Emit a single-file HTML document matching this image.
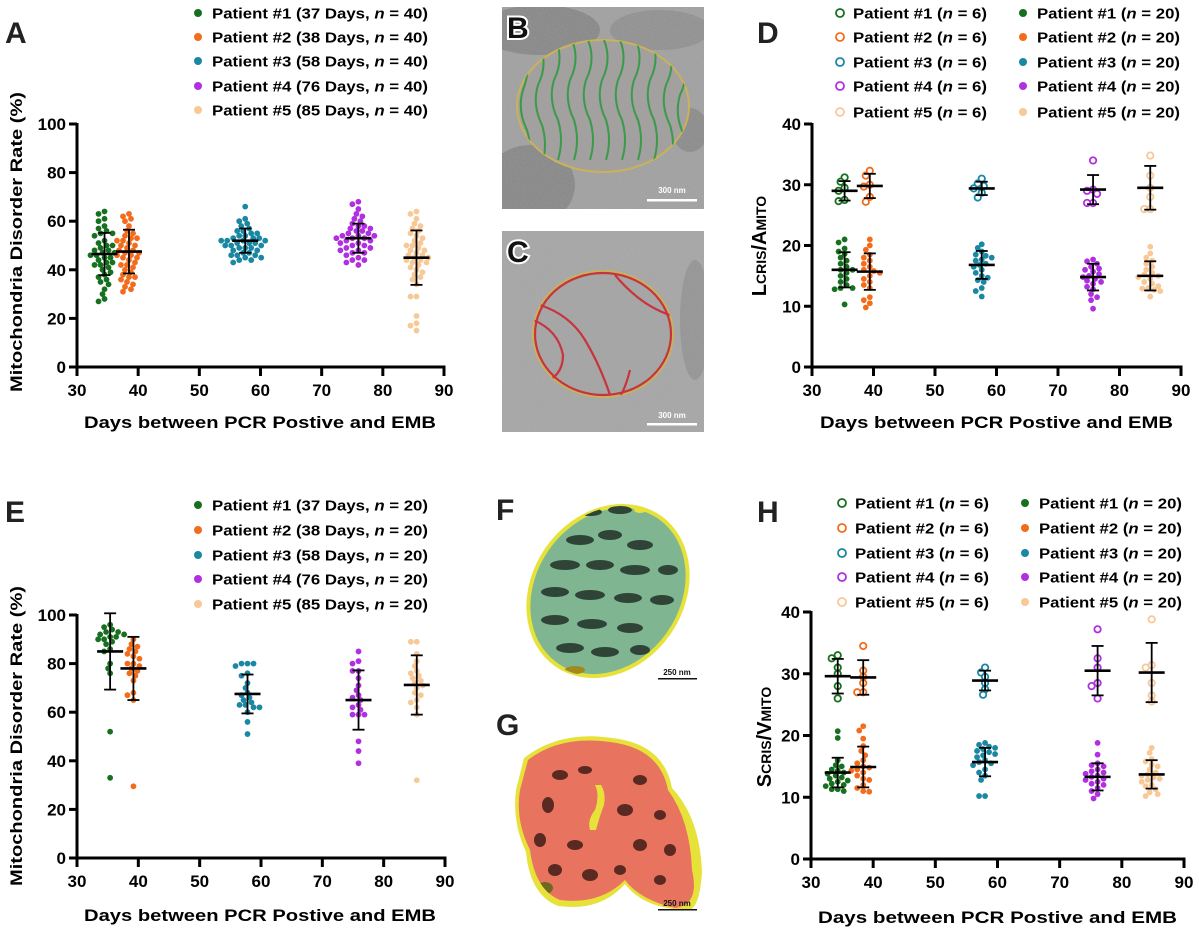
<!DOCTYPE html>
<html><head><meta charset="utf-8"><style>
html,body{margin:0;padding:0;background:#fff;}
svg{display:block;font-family:"Liberation Sans",Arial,sans-serif;}
</style></head><body>
<svg id="fig" width="1199" height="930" viewBox="0 0 1199 930" xmlns="http://www.w3.org/2000/svg">
<defs>
<clipPath id="rectB"><rect x="502" y="7" width="202" height="202"/></clipPath>
<clipPath id="rectC"><rect x="502" y="231" width="202" height="201"/></clipPath>
<clipPath id="clipB"><ellipse cx="603" cy="106" rx="86" ry="66"/></clipPath>
<clipPath id="clipC"><ellipse cx="603" cy="334" rx="70" ry="63"/></clipPath>
<clipPath id="clipF"><ellipse cx="608" cy="591" rx="74" ry="90" transform="rotate(35 608 591)"/></clipPath>
<clipPath id="clipG"><path d="M528 760 Q560 735 610 742 Q660 748 668 790 Q690 820 692 870 Q700 905 675 908 Q640 900 625 880 Q600 905 560 900 Q535 890 530 850 Q515 820 520 790 Z"/></clipPath>
<filter id="noise" filterUnits="userSpaceOnUse" x="0" y="0" width="1199" height="930"><feTurbulence type="fractalNoise" baseFrequency="0.9" numOctaves="2" seed="3"/><feColorMatrix values="0 0 0 0 0.55  0 0 0 0 0.55  0 0 0 0 0.55  0 0 0 0.35 0"/></filter>
</defs>

<!-- Micrograph B -->
<g>
<g clip-path="url(#rectB)">
<rect x="502" y="7" width="202" height="202" fill="#9c9c9c"/>
<ellipse cx="540" cy="30" rx="60" ry="25" fill="#6f6f6f" opacity="0.6"/>
<ellipse cx="530" cy="185" rx="45" ry="40" fill="#707070" opacity="0.6"/>
<ellipse cx="690" cy="130" rx="18" ry="22" fill="#777" opacity="0.6"/>
<ellipse cx="660" cy="30" rx="50" ry="20" fill="#7a7a7a" opacity="0.5"/>
<rect x="502" y="7" width="202" height="202" filter="url(#noise)"/>
</g>
<ellipse cx="603" cy="106" rx="86" ry="66" fill="#a3a0a0" stroke="#c9b25a" stroke-width="2"/>
<g clip-path="url(#clipB)" stroke="#3a9a4a" stroke-width="2" fill="none">
<path d="M525 50 q6 20 -2 40 q-6 20 4 40 q6 20 0 40"/>
<path d="M540 45 q8 20 -2 40 q-6 20 4 40 q6 20 0 40"/>
<path d="M556 40 q8 20 -2 40 q-6 20 4 40 q6 20 0 40"/>
<path d="M572 40 q8 20 -2 40 q-6 20 4 40 q6 20 0 40"/>
<path d="M588 40 q8 20 -2 40 q-6 20 4 40 q6 20 0 40"/>
<path d="M604 40 q8 20 -2 40 q-6 20 4 40 q6 20 0 40"/>
<path d="M620 40 q8 20 -2 40 q-6 20 4 40 q6 20 0 40"/>
<path d="M636 40 q8 20 -2 40 q-6 20 4 40 q6 20 0 40"/>
<path d="M652 40 q8 20 -2 40 q-6 20 4 40 q6 20 0 40"/>
<path d="M668 45 q8 20 -2 40 q-6 20 4 40 q6 20 0 40"/>
<path d="M682 55 q8 20 -2 40 q-6 20 4 40"/>
</g>
<text x="672" y="193" font-size="8" font-weight="bold" fill="#fff" text-anchor="middle">300 nm</text>
<rect x="647" y="199" width="50" height="2.5" fill="#fff"/>
<text x="507" y="38" font-size="30" font-weight="bold" fill="#111" stroke="#fff" stroke-width="4" paint-order="stroke">B</text>
</g>

<!-- Micrograph C -->
<g>
<g clip-path="url(#rectC)">
<rect x="502" y="231" width="202" height="201" fill="#a2a2a2"/>
<ellipse cx="695" cy="320" rx="15" ry="60" fill="#7c7c7c" opacity="0.5"/>
<rect x="502" y="231" width="202" height="201" filter="url(#noise)"/>
</g>
<ellipse cx="603" cy="334" rx="70" ry="63" fill="#a6a6a6" stroke="#c9b25a" stroke-width="2"/>
<g clip-path="url(#clipC)" stroke="#c8343c" stroke-width="2.2" fill="none">
<ellipse cx="603" cy="334" rx="68" ry="61"/>
<path d="M540 305 q30 10 45 35 q15 25 25 55"/>
<path d="M533 320 q25 10 30 35 q0 25 -28 30"/>
<path d="M615 275 q25 30 55 40"/>
<path d="M630 370 q-5 20 -12 30"/>
</g>
<text x="672" y="418" font-size="8" font-weight="bold" fill="#fff" text-anchor="middle">300 nm</text>
<rect x="647" y="423" width="50" height="2.5" fill="#fff"/>
<text x="507" y="262" font-size="30" font-weight="bold" fill="#111" stroke="#fff" stroke-width="4" paint-order="stroke">C</text>
</g>

<!-- 3D F -->
<g>
<text x="496" y="520" font-size="30" font-weight="bold" fill="#222">F</text>
<ellipse cx="608" cy="591" rx="76" ry="92" transform="rotate(35 608 591)" fill="#e6e23a"/>
<ellipse cx="608" cy="591" rx="72" ry="88" transform="rotate(35 608 591)" fill="#7fb691"/>
<g clip-path="url(#clipF)" fill="#2f4436">
<ellipse cx="580" cy="540" rx="14" ry="5"/><ellipse cx="610" cy="535" rx="12" ry="5"/><ellipse cx="640" cy="545" rx="13" ry="5"/>
<ellipse cx="565" cy="565" rx="15" ry="5"/><ellipse cx="600" cy="565" rx="14" ry="5"/><ellipse cx="635" cy="570" rx="15" ry="5"/><ellipse cx="668" cy="570" rx="10" ry="5"/>
<ellipse cx="555" cy="592" rx="14" ry="5"/><ellipse cx="590" cy="595" rx="15" ry="5"/><ellipse cx="628" cy="598" rx="14" ry="5"/><ellipse cx="662" cy="600" rx="12" ry="5"/>
<ellipse cx="555" cy="620" rx="14" ry="5"/><ellipse cx="592" cy="624" rx="15" ry="5"/><ellipse cx="630" cy="628" rx="13" ry="5"/>
<ellipse cx="570" cy="648" rx="14" ry="5"/><ellipse cx="605" cy="652" rx="14" ry="5"/><ellipse cx="640" cy="650" rx="10" ry="5"/>
<ellipse cx="590" cy="512" rx="12" ry="4"/><ellipse cx="620" cy="510" rx="12" ry="4"/>
<ellipse cx="575" cy="670" rx="10" ry="4" fill="#a08a20"/><ellipse cx="640" cy="510" rx="6" ry="3" fill="#e6e23a"/>
</g>
<text x="677" y="675" font-size="8" font-weight="bold" fill="#111" text-anchor="middle">250 nm</text>
<rect x="658" y="678" width="39" height="1.5" fill="#111"/>
</g>

<!-- 3D G -->
<g>
<text x="496" y="735" font-size="30" font-weight="bold" fill="#222">G</text>
<path d="M524 758 Q560 730 612 738 Q664 744 672 788 Q700 818 702 872 Q700 905 690 910 Q645 910 625 884 Q600 912 558 906 Q530 895 526 852 Q512 822 516 790 Z" fill="#e6e23a"/>
<path d="M528 760 Q560 735 610 742 Q660 748 668 790 Q690 820 692 870 Q700 905 675 908 Q640 900 625 880 Q600 905 560 900 Q535 890 530 850 Q515 820 520 790 Z" fill="#e8735e"/>
<g clip-path="url(#clipG)" fill="#5a2a22">
<ellipse cx="560" cy="775" rx="8" ry="5"/><ellipse cx="585" cy="770" rx="7" ry="4"/><ellipse cx="640" cy="780" rx="7" ry="5"/>
<ellipse cx="548" cy="805" rx="6" ry="8"/><ellipse cx="625" cy="810" rx="8" ry="6"/><ellipse cx="660" cy="815" rx="6" ry="5"/>
<ellipse cx="540" cy="840" rx="6" ry="7"/><ellipse cx="575" cy="845" rx="8" ry="5"/><ellipse cx="640" cy="845" rx="7" ry="6"/><ellipse cx="670" cy="850" rx="6" ry="6"/>
<ellipse cx="555" cy="870" rx="7" ry="6"/><ellipse cx="590" cy="875" rx="8" ry="6"/><ellipse cx="620" cy="870" rx="6" ry="5"/><ellipse cx="660" cy="880" rx="6" ry="5"/>
<ellipse cx="545" cy="888" rx="8" ry="6" fill="#6d6a20"/>
<path d="M595 785 q5 10 0 25 q-8 10 -5 20 l6 0 q4 -15 8 -25 q2 -12 -3 -20z" fill="#e6e23a"/>
</g>
<text x="677" y="906" font-size="8" font-weight="bold" fill="#111" text-anchor="middle">250 nm</text>
<rect x="658" y="909" width="39" height="1.5" fill="#111"/>
</g>

<g id="charts"></g>
</svg>
<script>
const NS = "http://www.w3.org/2000/svg";
const COLORS = ["#17701f", "#f36c1c", "#1a87a3", "#b030e0", "#f8c896"];
const X_TICKS = [30, 40, 50, 60, 70, 80, 90];
const Y_TICKS_PCT = [0, 20, 40, 60, 80, 100];
const Y_TICKS_40 = [0, 10, 20, 30, 40];

// Panel A
const A_days = [34.5, 38.5, 57.5, 76, 85.5];
const A_means = [46.5, 47.5, 52, 53, 45];
const A_sds = [8.7, 9, 5, 6, 11.2];
const A_p1 = [64,63,61,60,58,57,56,55,55,54,52,51,50,50,49,48,48,47,47,46,46,45,45,44,43,43,42,42,41,40,39,38,37,36,35,34,32,30,28,27];
const A_p2 = [63,62,61,60,58,56,55,54,53,53,52,52,51,50,50,49,48,48,47,46,45,45,44,43,42,42,41,40,39,38,37,37,36,35,34,33,32,31,46,47];
const A_p3 = [66,61,60,59,58,57,56,56,55,55,54,54,53,53,53,52,52,52,52,51,51,51,50,50,50,49,49,49,48,48,47,47,46,46,46,45,45,44,44,43];
const A_p4 = [68,67,65,63,62,61,60,59,58,58,57,57,56,56,55,55,54,54,54,53,53,53,52,52,51,51,50,50,49,49,48,48,47,47,46,45,44,44,43,42];
const A_p5 = [64,63,61,59,58,57,56,55,54,53,52,51,50,50,49,48,48,47,46,46,45,45,44,44,43,43,42,41,40,39,38,37,36,34,29,29,21,18,17,15];
const A_legend = ["Patient #1 (37 Days, ", "Patient #2 (38 Days, ", "Patient #3 (58 Days, ", "Patient #4 (76 Days, ", "Patient #5 (85 Days, "];

// Panel E
const E_days = [35.4, 39.2, 57.8, 75.9, 85.4];
const E_means = [85, 78, 67.5, 65, 71.2];
const E_sds = [15.7, 13, 8, 12.2, 12.2];
const E_p1 = [96,95,94,93,93,92,92,91,91,90,90,89,88,86,85,80,78,76,52,33];
const E_p2 = [90,88,87,86,85,84,83,82,80,80,79,78,77,76,75,73,68,67,65,29.5];
const E_p3 = [80,80,80,79,76,75,72,70,68,67,66,65,64,63,63,62,62,56,51,60];
const E_p4 = [85,81,80,77,77,74,71,69,67,66,65,63,61,59,59,59,48,44,39,62];
const E_p5 = [89,89,84,81,79,77,76,75,74,73,72,71,70,68,67,65,64,62,59,32];

// Panel D
const D_days = [35.3, 39.4, 57.6, 75.7, 85];
const D_open_means = [29, 29.8, 29.4, 29.2, 29.5];
const D_open_sds = [1.6, 2, 1.1, 2.4, 3.6];
const D_fill_means = [16, 15.7, 16.8, 14.8, 15];
const D_fill_sds = [2.9, 3, 2.3, 2.2, 2.4];
const D_o1 = [31.2,30.5,29.5,29,27.3,27.5];
const D_o2 = [32.3,31.5,30,29.7,28,27.2];
const D_o3 = [31,30.2,29.8,29.4,28.7,27.9];
const D_o4 = [34,29.2,29,28.5,27,27];
const D_o5 = [34.8,31.5,29.5,28,26,26];
const D_f1 = [21,20.5,19.5,19,18.6,18,17.5,17,16.5,16,16,15.5,15,14.5,14,13.5,13,13,12.8,10.3];
const D_f2 = [21,20,19.3,18.5,18,17.5,17,16.5,16,15.8,15.5,15,14.5,14,13.5,13,11.5,11,10.5,9.8];
const D_f3 = [20.2,19.6,19,18.5,18.3,18,17.7,17.5,17,16.8,16.5,16,15.5,15,14.7,14.3,14,13,12.5,11.6];
const D_f4 = [17.7,17.4,17,16.5,16.2,16,15.7,15.3,15,14.8,14.5,14.2,14,13.7,13.2,12.8,12,11.5,11,9.6];
const D_f5 = [19.8,18.7,18,17.5,17,16.5,16,15.5,15.2,15,14.8,14.5,14,13.7,13.3,13,12.9,12.7,12.5,11.6];

// Panel H
const H_days = [34.3, 38.4, 58, 76.1, 84.8];
const H_open_means = [29.6, 29.4, 28.9, 30.5, 30.2];
const H_open_sds = [2.8, 2.8, 1.6, 4, 4.8];
const H_fill_means = [14, 14.9, 15.7, 13.3, 13.7];
const H_fill_sds = [2.4, 3.3, 2.3, 2.2, 2.3];
const H_o1 = [33,32.5,31,30,28,26];
const H_o2 = [34.5,30.5,29.5,28.5,27,27];
const H_o3 = [31,30.2,29.5,28.5,27.5,26.6];
const H_o4 = [37.2,32.5,31,28,28.5,26];
const H_o5 = [38.8,31.4,31,28.5,26.5,25.5];
const H_f1 = [20.7,19.6,16,15.2,15,14.5,14.3,14,13.8,13.5,13.2,13,12.7,12.5,12.2,12,11.8,11.3,11.3,11];
const H_f2 = [21.5,20.8,19.5,18.3,17.5,16.8,16,15.5,15,14.8,14.5,14.3,14,13.5,13,12.8,12,11.5,11,10.9];
const H_f3 = [18.8,18.5,18.2,18,17.8,17.5,17.3,17,16.8,16.5,16,15.7,15.5,15.2,14.5,14,13.5,12.8,10.2,10.2];
const H_f4 = [18.8,16.9,15.5,15.2,15,14.5,14.2,14,13.8,13.5,13.3,13,12.8,12.5,12.2,12,11.5,11,10.5,9.8];
const H_f5 = [18,17.2,16.2,15.8,15.3,15,14.5,14,13.7,13.5,13.2,13,12.8,12.5,12,11.8,11.3,10.8,10.5,10.2];

const root = document.getElementById("charts");
function mk(tag, attrs, parent) {
  const e = document.createElementNS(NS, tag);
  for (const k in attrs) e.setAttribute(k, attrs[k]);
  (parent || root).appendChild(e);
  return e;
}

function scaleX(x0, x1) { return d => x0 + (d - 30) * (x1 - x0) / 60; }
function scaleY(y0, y1, max) { return v => y0 - v * (y0 - y1) / max; }

function axes(g, sx, sy, yTicks, x0, x1, y0, y1, name) {
  const ax = mk("g", {}, g);
  
  
  mk("line", {x1: x0, y1: y1 - 1, x2: x0, y2: y0 + 1.5, stroke: "#000", "stroke-width": 3}, ax);
  mk("line", {x1: x0 - 1.5, y1: y0, x2: x1 + 1.5, y2: y0, stroke: "#000", "stroke-width": 3}, ax);
  X_TICKS.forEach(t => {
    const x = sx(t);
    mk("line", {x1: x, y1: y0, x2: x, y2: y0 + 9, stroke: "#000", "stroke-width": 3}, ax);
    const tx = mk("text", {x: x, y: y0 + 29, "font-size": 17, "font-weight": "bold", "text-anchor": "middle"}, ax);
    
    
    tx.textContent = t;
  });
  yTicks.forEach(t => {
    const y = sy(t);
    mk("line", {x1: x0 - 8, y1: y, x2: x0, y2: y, stroke: "#000", "stroke-width": 3}, ax);
    const tx = mk("text", {x: x0 - 11, y: y + 6, "font-size": 17, "font-weight": "bold", "text-anchor": "end"}, ax);
    
    
    tx.textContent = t;
  });
}

function swarm(g, vals, cx, sy, color, open, name) {
  const r = open ? 3.2 : 2.9;
  const placed = [];
  const sorted = vals.slice().sort((a, b) => b - a);
  const step = 2.0;
  sorted.forEach(v => {
    const y = sy(v);
    let x = cx;
    for (let k = 0; k < 40; k++) {
      const off = (k % 2 === 0 ? 1 : -1) * Math.ceil(k / 2) * step;
      const tx = cx + off;
      if (placed.every(p => Math.hypot(p[0] - tx, p[1] - y) >= 2 * r - 0.6)) { x = tx; break; }
    }
    placed.push([x, y]);
    const c = open
      ? mk("circle", {cx: x, cy: y, r: r, fill: "#fff", stroke: color, "stroke-width": 1.8}, g)
      : mk("circle", {cx: x, cy: y, r: r, fill: color}, g);
    
    
  });
}

function errbar(g, cx, mean, sd, sy, name) {
  const eb = mk("g", {stroke: "#000"}, g);
  
  
  mk("line", {x1: cx, y1: sy(mean + sd), x2: cx, y2: sy(mean - sd), "stroke-width": 1.8}, eb);
  mk("line", {x1: cx - 6, y1: sy(mean + sd), x2: cx + 6, y2: sy(mean + sd), "stroke-width": 1.8}, eb);
  mk("line", {x1: cx - 6, y1: sy(mean - sd), x2: cx + 6, y2: sy(mean - sd), "stroke-width": 1.8}, eb);
  mk("line", {x1: cx - 13, y1: sy(mean), x2: cx + 13, y2: sy(mean), "stroke-width": 2.6}, eb);
}

function legendRow(g, x, y, textX, textW, label, nval, color, open, name) {
  const c = open
    ? mk("circle", {cx: x, cy: y, r: 4, fill: "#fff", stroke: color, "stroke-width": 1.8}, g)
    : mk("circle", {cx: x, cy: y, r: 4, fill: color}, g);
  
  
  const t = mk("text", {x: textX, y: y + 5.5, "font-size": 15, "font-weight": "bold", textLength: textW, lengthAdjust: "spacingAndGlyphs"}, g);
  
  
  t.appendChild(document.createTextNode(label));
  const it = document.createElementNS(NS, "tspan");
  it.setAttribute("font-style", "italic");
  it.textContent = "n";
  t.appendChild(it);
  t.appendChild(document.createTextNode(" = " + nval + ")"));
}

function panelLetter(g, x, y, s, name) {
  const t = mk("text", {x: x, y: y, "font-size": 30, "font-weight": "bold", fill: "#222"}, g);
  
  
  t.textContent = s;
}

function xTitle(g, x0, x1, y) {
  const t = mk("text", {x: x0, y: y, "font-size": 17, "font-weight": "bold", textLength: x1 - x0, lengthAdjust: "spacingAndGlyphs"}, g);
  
  
  t.textContent = "Days between PCR Postive and EMB";
}

function pctPanel(name, x0, x1, y0, y1, days, means, sds, groups, n, letterY, legY, titleCY, xTitleY) {
  const g = mk("g", {});
  
  
  const sx = scaleX(x0, x1), sy = scaleY(y0, y1, 100);
  panelLetter(g, 5, letterY, name === "panel-a" ? "A" : "E", name + "-label");
  axes(g, sx, sy, Y_TICKS_PCT, x0, x1, y0, y1, name);
  groups.forEach((vals, i) => swarm(g, vals, sx(days[i]), sy, COLORS[i], false, name + "-patient-" + (i + 1)));
  groups.forEach((vals, i) => errbar(g, sx(days[i]), means[i], sds[i], sy, name + "-patient-" + (i + 1)));
  A_legend.forEach((lab, i) => legendRow(g, 198, legY[i], 212, 216, lab, n, COLORS[i], false, "legend-entry-" + (i + 1)));
  const yt = mk("text", {x: 0, y: 0, "font-size": 17, "font-weight": "bold", "text-anchor": "middle", textLength: 300, lengthAdjust: "spacingAndGlyphs", transform: "translate(22," + titleCY + ") rotate(-90)"}, g);
  
  
  yt.textContent = "Mitochondria Disorder Rate (%)";
  xTitle(g, 84, 436, xTitleY);
}
pctPanel("panel-a", 77, 444, 367, 124, A_days, A_means, A_sds, [A_p1, A_p2, A_p3, A_p4, A_p5], 40, 43, [13, 37, 61, 86, 110], 242, 428);
pctPanel("panel-e", 77, 445, 858, 615, E_days, E_means, E_sds, [E_p1, E_p2, E_p3, E_p4, E_p5], 20, 522, [505, 530, 555, 579, 604], 736, 921);

function ratioPanel(name, letter, x0, x1, y0, y1, days, om, osd, fm, fsd, opens, fills, letterY, legY, legOX, legFX, titleCY, tA, tB, xTitleX0, xTitleX1, xTitleY, titleX) {
  const g = mk("g", {});
  
  
  const sx = scaleX(x0, x1), sy = scaleY(y0, y1, 40);
  panelLetter(g, 757, letterY, letter, name + "-label");
  axes(g, sx, sy, Y_TICKS_40, x0, x1, y0, y1, name);
  opens.forEach((vals, i) => swarm(g, vals, sx(days[i]), sy, COLORS[i], true, name + "-patient-" + (i + 1) + "-n6"));
  fills.forEach((vals, i) => swarm(g, vals, sx(days[i]), sy, COLORS[i], false, name + "-patient-" + (i + 1) + "-n20"));
  opens.forEach((v, i) => errbar(g, sx(days[i]), om[i], osd[i], sy, name + "-patient-" + (i + 1) + "-n6"));
  fills.forEach((v, i) => errbar(g, sx(days[i]), fm[i], fsd[i], sy, name + "-patient-" + (i + 1) + "-n20"));
  for (let i = 0; i < 5; i++) {
    legendRow(g, legOX, legY[i], legOX + 13, 134, "Patient #" + (i + 1) + " (", 6, COLORS[i], true, "legend-entry-open-" + (i + 1));
    legendRow(g, legFX, legY[i], legFX + 14, 143, "Patient #" + (i + 1) + " (", 20, COLORS[i], false, "legend-entry-filled-" + (i + 1));
  }
  const yt = mk("text", {x: 0, y: 0, "font-size": 20, "font-weight": "bold", "text-anchor": "middle", transform: "translate(" + titleX + "," + titleCY + ") rotate(-90)"}, g);
  
  
  const parts = [[tA[0], 20], ["CRIS", 14], ["/" + tB[0], 20], ["MITO", 14]];
  parts.forEach(p => {
    const ts = document.createElementNS(NS, "tspan");
    ts.setAttribute("font-size", p[1]);
    ts.textContent = p[0];
    yt.appendChild(ts);
  });
  xTitle(g, xTitleX0, xTitleX1, xTitleY);
}
ratioPanel("panel-d", "D", 812, 1181, 367, 124, D_days, D_open_means, D_open_sds, D_fill_means, D_fill_sds,
  [D_o1, D_o2, D_o3, D_o4, D_o5], [D_f1, D_f2, D_f3, D_f4, D_f5], 43, [13, 37, 62, 86, 112], 840, 1023, 246, ["L"], ["A"], 820, 1173, 428, 766);
ratioPanel("panel-h", "H", 811, 1184, 859, 612, H_days, H_open_means, H_open_sds, H_fill_means, H_fill_sds,
  [H_o1, H_o2, H_o3, H_o4, H_o5], [H_f1, H_f2, H_f3, H_f4, H_f5], 522, [503, 528, 553, 577, 602], 842, 1025, 737, ["S"], ["V"], 818, 1177, 923, 771);
</script>
</body></html>
